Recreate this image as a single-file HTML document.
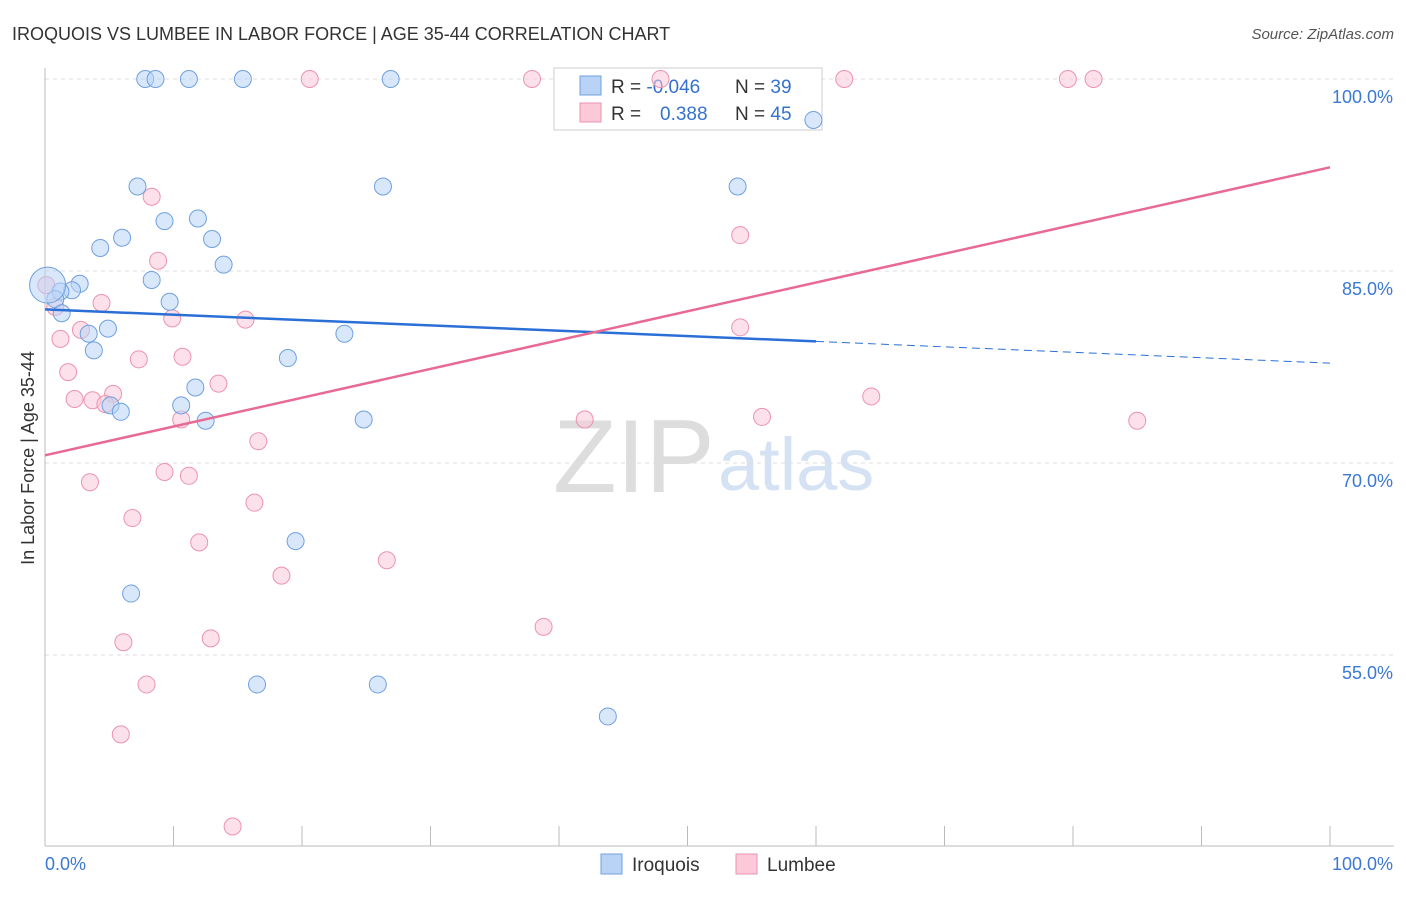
<!DOCTYPE html>
<html><head><meta charset="utf-8"><style>
body{margin:0;background:#fff;font-family:"Liberation Sans",sans-serif}
svg text{font-family:"Liberation Sans",sans-serif}
</style></head><body>
<svg id="c" width="1406" height="892">
<text x="12" y="40" font-size="18" fill="#333">IROQUOIS VS LUMBEE IN LABOR FORCE | AGE 35-44 CORRELATION CHART</text>
<text x="1394" y="39" font-size="15" fill="#555" font-style="italic" text-anchor="end">Source: ZipAtlas.com</text>
<text x="34" y="458" font-size="18" fill="#333" transform="rotate(-90 34 458)" text-anchor="middle">In Labor Force | Age 35-44</text>
<text x="553" y="492" font-size="104" fill="#ddd" font-family="Liberation Serif">ZIP</text>
<text x="718" y="490" font-size="74" fill="#d4e2f4">atlas</text>
<g id="grid"></g>
<g>
<rect x="554" y="68" width="268" height="62" fill="#fff" stroke="#ccc"/>
<rect x="580" y="76" width="21" height="19" fill="#b8d3f5" stroke="#6fa0e0"/>
<rect x="580" y="103" width="21" height="19" fill="#fbc9d8" stroke="#ec93ae"/>
<text x="611" y="93" font-size="19" fill="#333">R = <tspan fill="#3472d0">-0.046</tspan></text>
<text x="735" y="93" font-size="19" fill="#333">N = <tspan fill="#3472d0">39</tspan></text>
<text x="611" y="120" font-size="19" fill="#333">R = <tspan fill="#3472d0" x="660">0.388</tspan></text>
<text x="735" y="120" font-size="19" fill="#333">N = <tspan fill="#3472d0">45</tspan></text>
</g>
<g id="pts"></g><g id="lines"></g>
<g>
<rect x="601" y="854" width="21" height="20" fill="#b8d3f5" stroke="#6fa0e0"/>
<text x="632" y="871" font-size="19" fill="#333">Iroquois</text>
<rect x="736" y="854" width="21" height="20" fill="#fbc9d8" stroke="#ec93ae"/>
<text x="767" y="871" font-size="19" fill="#333">Lumbee</text>
</g>
<text x="45" y="870" font-size="18" fill="#3a78d4">0.0%</text>
<text x="1393" y="870" font-size="18" fill="#3a78d4" text-anchor="end">100.0%</text>
</svg>
<script>
const yTicks=[100,85,70,55];
const iroX=[7.8,8.6,11.2,15.4,26.9,59.8,7.2,26.3,53.9,9.3,11.9,6,13,4.3,13.9,2.7,8.3,2.1,1.2,0.8,9.7,1.3,4.9,3.4,23.3,3.8,18.9,11.7,10.6,5.1,5.9,12.5,24.8,19.5,6.7,16.5,25.9,43.8,0.2];
const iroY=[100,100,100,100,100,96.8,91.6,91.6,91.6,88.9,89.1,87.6,87.5,86.8,85.5,84,84.3,83.5,83.4,82.8,82.6,81.7,80.5,80.1,80.1,78.8,78.2,75.9,74.5,74.5,74,73.3,73.4,63.9,59.8,52.7,52.7,50.2,83.9];
const lumX=[20.6,37.9,62.2,79.6,81.6,8.3,54.1,8.8,4.4,9.9,15.6,54.1,2.8,1.2,7.3,10.7,1.8,13.5,5.3,2.3,3.7,4.7,64.3,42,55.8,85,10.6,16.6,9.3,11.2,3.5,16.3,6.8,12,26.6,18.4,38.8,6.1,12.9,7.9,5.9,14.6,0.8,0.1,47.9];
const lumY=[100,100,100,100,100,90.8,87.8,85.8,82.5,81.3,81.2,80.6,80.4,79.7,78.1,78.3,77.1,76.2,75.4,75,74.9,74.6,75.2,73.4,73.6,73.3,73.4,71.7,69.3,69,68.5,66.9,65.7,63.8,62.4,61.2,57.2,56,56.3,52.7,48.8,41.6,82.2,83.9,100];
const iroTrend=[82,79.5,77.8];
const lumTrend=[70.6,93.1];
const X=v=>45+v*12.85, Y=v=>79+(100-v)*12.8;
const NS='http://www.w3.org/2000/svg';
function mk(t,a,p){const e=document.createElementNS(NS,t);for(const k in a)e.setAttribute(k,a[k]);document.getElementById(p).appendChild(e);return e;}
yTicks.forEach(t=>{const l=mk('line',{x1:45,x2:1394,y1:Y(t),y2:Y(t),stroke:'#ddd','stroke-dasharray':'4 4'},'grid');


const tx=mk('text',{x:1393,y:Y(t)+24,'font-size':18,fill:'#3a78d4','text-anchor':'end'},'grid');tx.textContent=t.toFixed(1)+'%';

});
mk('line',{x1:45,x2:45,y1:68,y2:846,stroke:'#bbb'},'grid');
mk('line',{x1:45,x2:1394,y1:846,y2:846,stroke:'#bbb'},'grid');
for(let i=0;i<=10;i++){const tk=mk('line',{x1:X(i*10),x2:X(i*10),y1:826,y2:846,stroke:'#bbb'},'grid');

}
function dots(xs,ys,f,s,name){xs.forEach((x,i)=>{const c=mk('circle',{cx:X(x),cy:Y(ys[i]),r:(i==xs.length-1&&name=='iroquois-point')?18:8.5,fill:f,'fill-opacity':0.55,stroke:s,'stroke-width':1},'pts');

});}
dots(lumX,lumY,'#fbc9d8','#ec93ae','lumbee-point');
dots(iroX,iroY,'#b8d3f5','#6fa0e0','iroquois-point');
let l1=mk('line',{x1:X(0),y1:Y(iroTrend[0]),x2:X(60),y2:Y(iroTrend[1]),stroke:'#2a6fd6','stroke-width':2.5},'lines');


let l2=mk('line',{x1:X(60),y1:Y(iroTrend[1]),x2:X(100),y2:Y(iroTrend[2]),stroke:'#2a6fd6','stroke-width':1,'stroke-dasharray':'8 5'},'lines');


let l3=mk('line',{x1:X(0),y1:Y(lumTrend[0]),x2:X(100),y2:Y(lumTrend[1]),stroke:'#e86a94','stroke-width':2.5},'lines');


</script>
</body></html>
